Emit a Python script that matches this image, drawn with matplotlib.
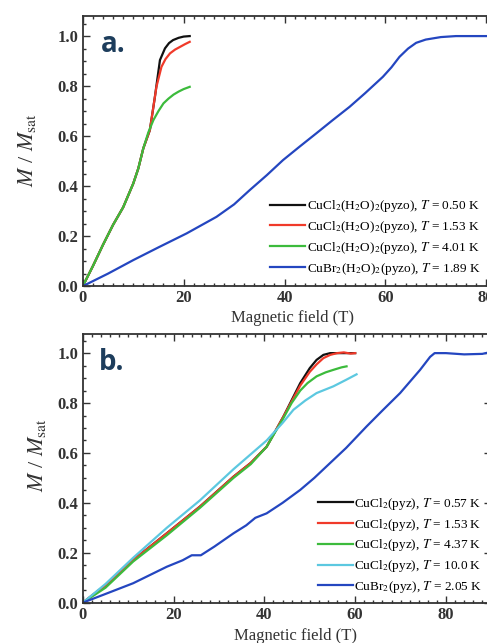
import numpy as np
import matplotlib
matplotlib.use('Agg')
import matplotlib.pyplot as plt
from matplotlib.ticker import MultipleLocator

plt.rcParams['font.family'] = ['Liberation Serif', 'DejaVu Serif']
plt.rcParams['mathtext.fontset'] = 'stix'

# panel a: CuX2(H2O)2(pyzo)
a_black_x = [0, 2, 4, 6, 8, 10, 11, 12, 13.3, 14.3, 15.3, 16.3, 17.1, 17.9, 19, 20, 21.2]
a_black_y = [0, 0.08, 0.165, 0.245, 0.315, 0.41, 0.47, 0.551, 0.624, 0.757, 0.904, 0.951, 0.972, 0.984, 0.993, 0.998, 1.0]
a_red_x = [0, 2, 4, 6, 8, 10, 11, 12, 13.3, 14.6, 15.6, 16.4, 17.3, 18.3, 19.3, 20.3, 21.2]
a_red_y = [0, 0.08, 0.165, 0.245, 0.315, 0.41, 0.47, 0.551, 0.624, 0.797, 0.877, 0.908, 0.931, 0.946, 0.957, 0.968, 0.977]
a_green_x = [0, 2, 4, 6, 8, 10, 11, 12, 13, 14, 15, 16, 17, 18, 19, 20, 21.2]
a_green_y = [0, 0.08, 0.165, 0.245, 0.315, 0.41, 0.47, 0.551, 0.615, 0.664, 0.70, 0.731, 0.75, 0.766, 0.778, 0.788, 0.797]
a_blue_x = [0, 5, 10, 15, 20.6, 26.5, 30, 33.1, 36.5, 39.7, 43, 46.3, 49.5, 52.9, 56, 59.5, 61.2, 62.8, 64.5, 66.1, 68, 71, 74, 80, 90]
a_blue_y = [0, 0.05, 0.104, 0.155, 0.211, 0.277, 0.327, 0.384, 0.444, 0.504, 0.558, 0.611, 0.663, 0.717, 0.772, 0.837, 0.875, 0.917, 0.95, 0.973, 0.986, 0.996, 1.0, 1.0, 1.0]
a_labels = [r'CuCl$_2$(H$_2$O)$_2$(pyzo), $T$ = 0.50 K',
            r'CuCl$_2$(H$_2$O)$_2$(pyzo), $T$ = 1.53 K',
            r'CuCl$_2$(H$_2$O)$_2$(pyzo), $T$ = 4.01 K',
            r'CuBr$_2$(H$_2$O)$_2$(pyzo), $T$ = 1.89 K']

# panel b: CuX2(pyz)
b_black_x = [0, 5, 11.1, 18.5, 25.8, 33.2, 37, 40.5, 44.2, 47.9, 50, 51.5, 53, 54.5, 57, 60]
b_black_y = [0, 0.07, 0.171, 0.278, 0.385, 0.505, 0.56, 0.625, 0.746, 0.88, 0.94, 0.973, 0.993, 1.0, 1.0, 1.0]
b_red_x = [0, 5, 11.1, 18.5, 25.8, 33.2, 37, 40.5, 44.2, 47.9, 50, 51.5, 53, 54.5, 56, 57.5, 59, 60]
b_red_y = [0, 0.07, 0.171, 0.278, 0.385, 0.505, 0.56, 0.625, 0.746, 0.87, 0.925, 0.955, 0.98, 0.993, 1.0, 1.003, 0.998, 1.0]
b_green_x = [0, 5, 11.1, 18.5, 25.8, 33.2, 37, 40.5, 44.2, 46, 47.9, 49.5, 51.5, 53.5, 55.2, 57, 58.1]
b_green_y = [0, 0.06, 0.165, 0.27, 0.38, 0.5, 0.555, 0.625, 0.74, 0.8, 0.85, 0.88, 0.907, 0.923, 0.933, 0.943, 0.947]
b_cyan_x = [0, 5, 11.1, 18.5, 25.8, 33.2, 40.5, 44, 46.4, 49, 51.5, 55.2, 58, 60.3]
b_cyan_y = [0, 0.075, 0.18, 0.3, 0.41, 0.535, 0.65, 0.72, 0.773, 0.81, 0.84, 0.867, 0.893, 0.915]
b_blue_x = [0, 5, 11.1, 18.5, 22, 24, 26, 29, 33.2, 36, 38, 40.5, 44, 47.9, 51, 55.2, 58, 62.5, 66, 69.9, 74.3, 76.5, 77.5, 80, 84, 88, 90]
b_blue_y = [0, 0.035, 0.078, 0.144, 0.17, 0.19, 0.19, 0.225, 0.278, 0.31, 0.34, 0.358, 0.4, 0.452, 0.5, 0.572, 0.62, 0.706, 0.77, 0.84, 0.933, 0.985, 1.0, 1.0, 0.995, 0.997, 1.005]
b_labels = [r'CuCl$_2$(pyz), $T$ = 0.57 K',
            r'CuCl$_2$(pyz), $T$ = 1.53 K',
            r'CuCl$_2$(pyz), $T$ = 4.37 K',
            r'CuCl$_2$(pyz), $T$ = 10.0 K',
            r'CuBr$_2$(pyz), $T$ = 2.05 K']

c_black = '#111111'
c_red = '#f03a2a'
c_green = '#3cbb3c'
c_cyan = '#5cc8e0'
c_blue = '#2446c0'

fig = plt.figure(figsize=(4.87, 6.43), dpi=100)
ax1 = fig.add_axes([0.170, 0.555, 0.932, 0.42])
ax2 = fig.add_axes([0.170, 0.0627, 0.839, 0.418])

lw = 1.6
ax1.plot(a_black_x, a_black_y, color=c_black, lw=lw, label=a_labels[0])
ax1.plot(a_red_x, a_red_y, color=c_red, lw=lw, label=a_labels[1])
ax1.plot(a_green_x, a_green_y, color=c_green, lw=lw, label=a_labels[2])
ax1.plot(a_blue_x, a_blue_y, color=c_blue, lw=lw, label=a_labels[3])

ax2.plot(b_black_x, b_black_y, color=c_black, lw=lw, label=b_labels[0])
ax2.plot(b_red_x, b_red_y, color=c_red, lw=lw, label=b_labels[1])
ax2.plot(b_green_x, b_green_y, color=c_green, lw=lw, label=b_labels[2])
ax2.plot(b_cyan_x, b_cyan_y, color=c_cyan, lw=lw, label=b_labels[3])
ax2.plot(b_blue_x, b_blue_y, color=c_blue, lw=lw, label=b_labels[4])

for ax, ylim in [(ax1, 1.08), (ax2, 1.077)]:
    ax.set_xlim(0, 90)
    ax.set_ylim(0, ylim)
    ax.xaxis.set_major_locator(MultipleLocator(20))
    ax.xaxis.set_minor_locator(MultipleLocator(2))
    ax.yaxis.set_major_locator(MultipleLocator(0.2))
    ax.yaxis.set_minor_locator(MultipleLocator(0.05))
    ax.yaxis.set_major_formatter(plt.FormatStrFormatter('%.1f'))
    ax.tick_params(which='both', direction='in', top=True, right=True, width=1, color='#333333')
    ax.tick_params(which='major', length=5, labelsize=12, labelcolor='#333333', pad=3)
    ax.tick_params(which='minor', length=2.5)
    for lab in ax.get_xticklabels() + ax.get_yticklabels():
        lab.set_fontweight('bold')
    for sp in ax.spines.values():
        sp.set_linewidth(1.3)
        sp.set_color('#333333')
    ax.set_xlabel('Magnetic field (T)', fontsize=12, color='#333333', va='center')
    ax.set_ylabel(r'$M$ / $M_{\rm sat}$', fontsize=16, color='#333333', va='center')

ax1.xaxis.set_label_coords(0.463, -0.119)
ax1.yaxis.set_label_coords(-0.123, 0.504)
ax2.xaxis.set_label_coords(0.52, -0.124)
ax2.yaxis.set_label_coords(-0.112, 0.55)

ax1.legend(loc='upper left', bbox_to_anchor=(0.413, 0.325), frameon=False, fontsize=9.5,
           handlelength=2.65, handletextpad=0.1, labelspacing=0.36, borderpad=0, borderaxespad=0)
ax2.legend(loc='upper left', bbox_to_anchor=(0.576, 0.397), frameon=False, fontsize=9.5,
           handlelength=2.65, handletextpad=0.1, labelspacing=0.36, borderpad=0, borderaxespad=0)

ax1.text(0.040, 0.868, 'a.', transform=ax1.transAxes, fontsize=20, fontweight='bold',
         family=['Open Sans', 'DejaVu Sans'], color='#1d3d5c', va='baseline', ha='left')
ax2.text(0.040, 0.866, 'b.', transform=ax2.transAxes, fontsize=20, fontweight='bold',
         family=['Open Sans', 'DejaVu Sans'], color='#1d3d5c', va='baseline', ha='left')

fig.savefig('out.png', dpi=100)
